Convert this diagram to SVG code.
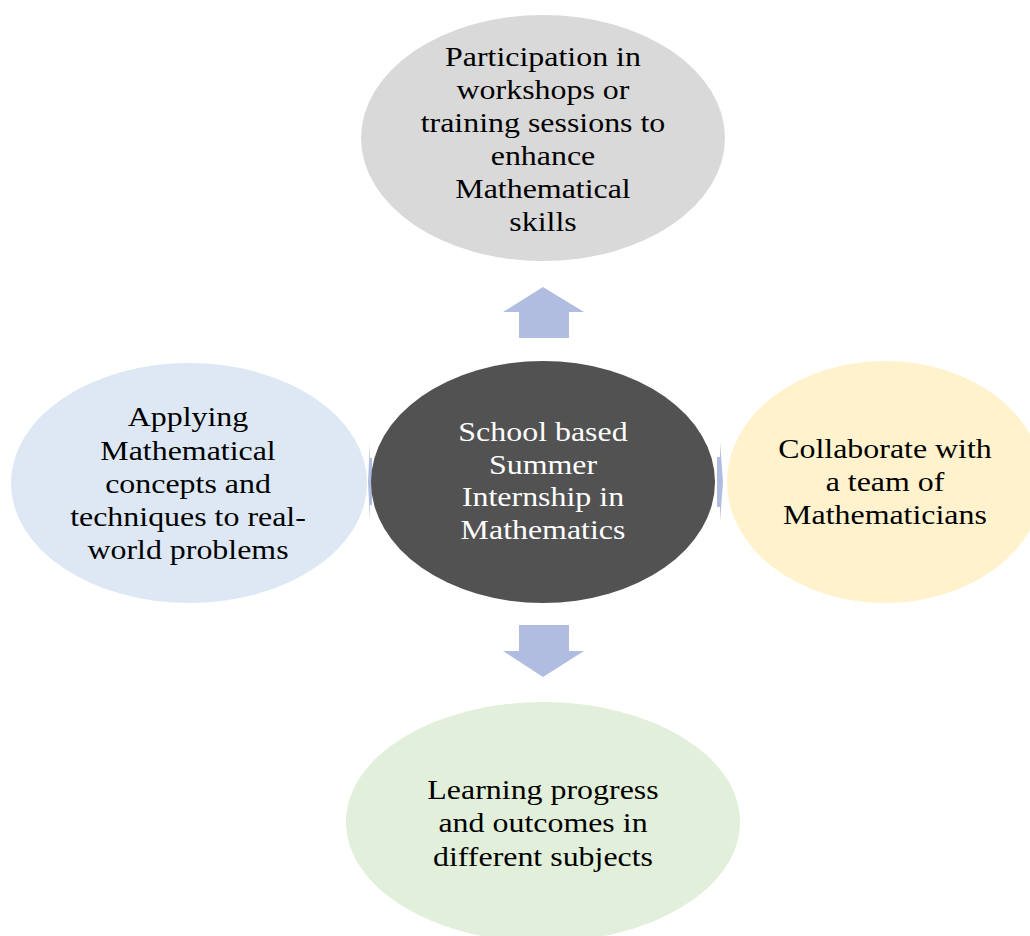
<svg xmlns="http://www.w3.org/2000/svg" width="1030" height="936" viewBox="0 0 1030 936">
<style>
.t{font-family:"Liberation Serif","Times New Roman",serif;font-size:28px;fill:#000;text-anchor:middle}
.w{fill:#ffffff}
.arr{fill:#b0bde0}
</style>
<rect width="1030" height="936" fill="#ffffff"/>
<g id="connectors">
<polygon class="arr" points="543,287 584,312 569,312 569,338 519,338 519,312 503,312"/>
<polygon class="arr" points="519,625 569,625 569,651 584,651 543,677 503,651 519,651"/>
<polygon class="arr" points="368,482 370,442 370,458 372,458 372,505 370,505 370,522"/>
<polygon class="arr" points="723,482 720,442 720,457 717,457 717,507 720,507 720,522"/>
</g>
<g id="node-top">
<ellipse cx="543" cy="138" rx="182" ry="123" fill="#d9d9d9"/>
<text class="t" transform="translate(543,0) scale(1.14,1)"><tspan x="0" y="66">Participation in</tspan><tspan x="0" y="99">workshops or</tspan><tspan x="0" y="132">training sessions to</tspan><tspan x="0" y="165">enhance</tspan><tspan x="0" y="198">Mathematical</tspan><tspan x="0" y="231">skills</tspan></text>
</g>
<g id="node-center">
<ellipse cx="543" cy="482" rx="172" ry="121" fill="#525252"/>
<text class="t w" transform="translate(543,0) scale(1.14,1)"><tspan x="0" y="441">School based</tspan><tspan x="0" y="474">Summer</tspan><tspan x="0" y="506">Internship in</tspan><tspan x="0" y="539">Mathematics</tspan></text>
</g>
<g id="node-left">
<ellipse cx="189" cy="483" rx="178" ry="120" fill="#dde8f4"/>
<text class="t" transform="translate(188,0) scale(1.14,1)"><tspan x="0" y="426">Applying</tspan><tspan x="0" y="460">Mathematical</tspan><tspan x="0" y="493">concepts and</tspan><tspan x="0" y="526">techniques to real-</tspan><tspan x="0" y="559">world problems</tspan></text>
</g>
<g id="node-right">
<ellipse cx="885" cy="482" rx="158" ry="121" fill="#fff2cc"/>
<text class="t" transform="translate(885,0) scale(1.14,1)"><tspan x="0" y="458">Collaborate with</tspan><tspan x="0" y="491">a team of</tspan><tspan x="0" y="524">Mathematicians</tspan></text>
</g>
<g id="node-bottom">
<ellipse cx="543" cy="822" rx="197" ry="120" fill="#e2efda"/>
<text class="t" transform="translate(543,0) scale(1.14,1)"><tspan x="0" y="799">Learning progress</tspan><tspan x="0" y="832">and outcomes in</tspan><tspan x="0" y="866">different subjects</tspan></text>
</g>
</svg>
